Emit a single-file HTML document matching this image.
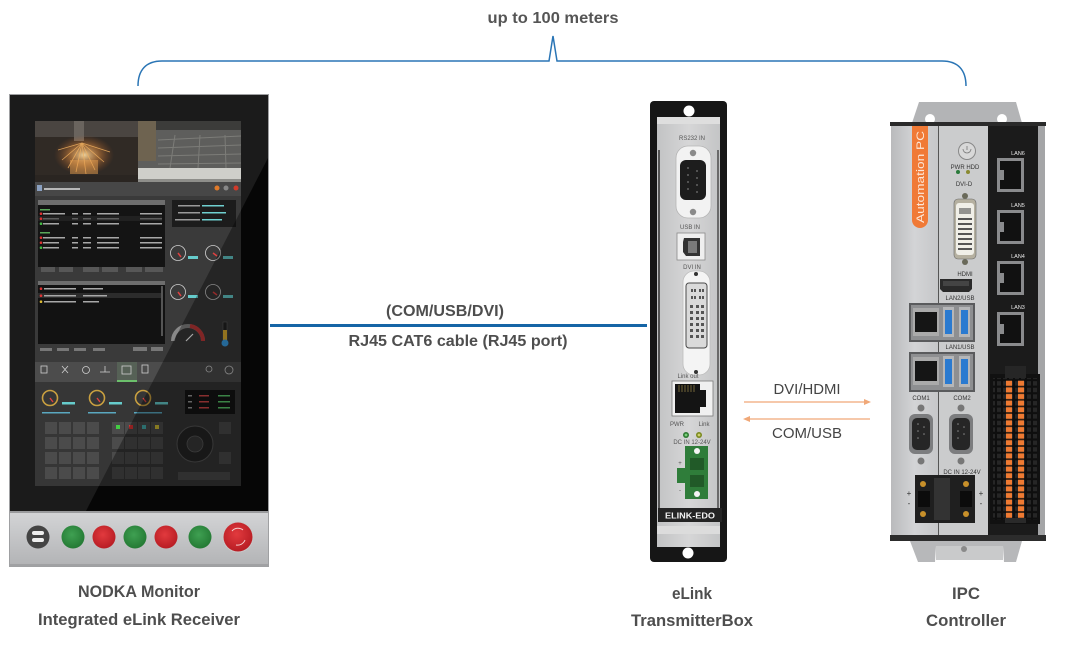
<!DOCTYPE html>
<html><head><meta charset="utf-8">
<style>
html,body{margin:0;padding:0;background:#fff;width:1067px;height:649px;overflow:hidden}
svg{display:block}
text{font-family:"Liberation Sans",Arial,sans-serif}
.lb{font-weight:bold;fill:#4e4e4e;font-size:17px}
.sm{fill:#555;font-size:6px}
.wh{fill:#e8e8e8;font-size:5.5px}
</style></head><body>
<svg width="1067" height="649" viewBox="0 0 1067 649" xmlns="http://www.w3.org/2000/svg">
<defs>
 <linearGradient id="panelG" x1="0" y1="0" x2="0" y2="1"><stop offset="0" stop-color="#d4d5d7"/><stop offset="1" stop-color="#b2b3b5"/></linearGradient>
 <linearGradient id="silverL" x1="0" y1="0" x2="1" y2="0"><stop offset="0" stop-color="#b9babc"/><stop offset="0.5" stop-color="#d3d4d6"/><stop offset="1" stop-color="#c6c7c9"/></linearGradient>
 <linearGradient id="silverE" x1="0" y1="0" x2="1" y2="0"><stop offset="0" stop-color="#c2c3c4"/><stop offset="0.5" stop-color="#d6d6d7"/><stop offset="1" stop-color="#c4c5c6"/></linearGradient>
 <radialGradient id="gr" cx=".45" cy=".4" r=".6"><stop offset="0" stop-color="#3fa052"/><stop offset="1" stop-color="#247a34"/></radialGradient>
 <radialGradient id="rd" cx=".45" cy=".4" r=".6"><stop offset="0" stop-color="#e23a3e"/><stop offset="1" stop-color="#b81d24"/></radialGradient>
 <radialGradient id="spark" cx=".5" cy=".5" r=".5"><stop offset="0" stop-color="#ffe2a8" stop-opacity=".9"/><stop offset=".5" stop-color="#e89040" stop-opacity=".5"/><stop offset="1" stop-color="#a05020" stop-opacity="0"/></radialGradient>
 <clipPath id="scr"><rect x="35" y="121" width="206" height="365"/></clipPath>
 <pattern id="orng" x="0" y="380" width="6" height="6.6" patternUnits="userSpaceOnUse"><rect width="6" height="6.6" fill="#2a1a10"/><rect x="0" y="0.8" width="6" height="5" fill="#ef7a32"/></pattern>
 <pattern id="blk" x="0" y="367" width="6" height="6.6" patternUnits="userSpaceOnUse"><rect width="6" height="6.6" fill="#0e0e0e"/><rect x="1" y="1" width="4" height="4.4" fill="#262626"/></pattern>
</defs>

<!-- top brace -->
<path d="M138,86 C138,70 146,61 162,61 L549,61 L553,36 L557,61 L942,61 C958,61 966,70 966,86" stroke="#2a75b5" stroke-width="1.5" fill="none"/>
<text x="553" y="23" class="lb" text-anchor="middle" textLength="131" lengthAdjust="spacingAndGlyphs" style="font-size:16px;fill:#555">up to 100 meters</text>

<!-- ================= MONITOR ================= -->
<rect x="9" y="94" width="260" height="473" fill="#9fa0a2"/>
<rect x="10" y="95" width="258" height="416" fill="#1b1b1b"/>
<polygon points="268,158 268,511 86,511" fill="#060606"/>
<rect x="10" y="511" width="258" height="55" fill="url(#panelG)"/>
<rect x="10" y="511" width="258" height="2" fill="#9a9b9d"/>
<rect x="10" y="564" width="258" height="2" fill="#a0a1a3"/>

<g clip-path="url(#scr)">
 <rect x="35" y="121" width="206" height="365" fill="#3a3a3a"/>
 <!-- cameras -->
 <rect x="35" y="121" width="103" height="61" fill="#302a25"/>
 <rect x="35" y="121" width="103" height="16" fill="#4a4541"/>
 <rect x="74" y="121" width="10" height="20" fill="#6a645e"/>
 <ellipse cx="84" cy="155" rx="30" ry="20" fill="url(#spark)"/>
 <g stroke="#f0b060" stroke-width=".8" opacity=".85">
  <line x1="82" y1="143" x2="62" y2="160"/><line x1="82" y1="143" x2="68" y2="168"/><line x1="82" y1="143" x2="76" y2="172"/><line x1="82" y1="143" x2="86" y2="174"/><line x1="82" y1="143" x2="95" y2="170"/><line x1="82" y1="143" x2="104" y2="162"/><line x1="82" y1="143" x2="110" y2="152"/><line x1="82" y1="143" x2="58" y2="150"/>
 </g>
 <rect x="70" y="160" width="28" height="14" fill="#e8a050" opacity=".5"/>
 <rect x="35" y="175" width="103" height="7" fill="#2a2521"/>
 <rect x="138" y="121" width="103" height="61" fill="#5e5e5c"/>
 <rect x="138" y="121" width="103" height="9" fill="#3c3c3a"/>
 <rect x="138" y="121" width="18" height="40" fill="#6e6350"/>
 <g stroke="#7c7c78" stroke-width="1">
  <line x1="158" y1="140" x2="241" y2="136"/><line x1="158" y1="148" x2="241" y2="145"/><line x1="158" y1="156" x2="241" y2="154"/><line x1="158" y1="164" x2="241" y2="163"/>
  <line x1="175" y1="135" x2="170" y2="168"/><line x1="200" y1="135" x2="198" y2="168"/><line x1="225" y1="135" x2="226" y2="168"/>
 </g>
 <rect x="138" y="168" width="103" height="11" fill="#cfcfca"/>
 <rect x="138" y="179" width="103" height="3" fill="#8e8e8a"/>
 <!-- title bar -->
 <rect x="35" y="182" width="206" height="14" fill="#474747"/>
 <rect x="37" y="185" width="5" height="6" fill="#8aa0c0"/>
 <rect x="44" y="188" width="36" height="2" fill="#b8b8b8"/>
 <circle cx="217" cy="188" r="2.5" fill="#e07a2a"/><circle cx="226" cy="188" r="2.5" fill="#888"/><circle cx="236" cy="188" r="2.5" fill="#d23a2a"/>
 <!-- table 1 -->
 <rect x="38" y="200" width="127" height="5" fill="#6e6e6e"/>
 <rect x="38" y="205" width="127" height="62" fill="#141414"/>
 <g fill="#a8a8a8">
  <rect x="40" y="209" width="10" height="1.5" fill="#5aa85a"/>
  <rect x="43" y="213" width="22" height="1.5"/><rect x="72" y="213" width="6" height="1.5"/><rect x="83" y="213" width="8" height="1.5"/><rect x="97" y="213" width="22" height="1.5"/><rect x="140" y="213" width="22" height="1.5"/>
  <rect x="43" y="218" width="16" height="1.5"/><rect x="72" y="218" width="6" height="1.5"/><rect x="83" y="218" width="8" height="1.5"/><rect x="97" y="218" width="22" height="1.5"/><rect x="140" y="218" width="22" height="1.5"/>
  <rect x="43" y="223" width="16" height="1.5"/><rect x="72" y="223" width="6" height="1.5"/><rect x="83" y="223" width="8" height="1.5"/><rect x="97" y="223" width="22" height="1.5"/><rect x="140" y="223" width="22" height="1.5"/>
  <rect x="40" y="232" width="10" height="1.5" fill="#5aa85a"/>
  <rect x="43" y="237" width="22" height="1.5"/><rect x="72" y="237" width="6" height="1.5"/><rect x="83" y="237" width="8" height="1.5"/><rect x="97" y="237" width="22" height="1.5"/><rect x="140" y="237" width="22" height="1.5"/>
  <rect x="43" y="242" width="16" height="1.5"/><rect x="72" y="242" width="6" height="1.5"/><rect x="83" y="242" width="8" height="1.5"/><rect x="97" y="242" width="22" height="1.5"/><rect x="140" y="242" width="22" height="1.5"/>
  <rect x="43" y="247" width="16" height="1.5"/><rect x="72" y="247" width="6" height="1.5"/><rect x="83" y="247" width="8" height="1.5"/><rect x="97" y="247" width="22" height="1.5"/><rect x="140" y="247" width="22" height="1.5"/>
 </g>
 <rect x="38" y="216" width="124" height="5" fill="#2a2a2a" opacity=".6"/>
 <circle cx="41" cy="213.7" r="1.3" fill="#d33"/><circle cx="41" cy="218.7" r="1.3" fill="#d33"/><circle cx="41" cy="223.7" r="1.3" fill="#4b4"/>
 <circle cx="41" cy="237.7" r="1.3" fill="#d33"/><circle cx="41" cy="242.7" r="1.3" fill="#d33"/><circle cx="41" cy="247.7" r="1.3" fill="#4b4"/>
 <g fill="#575757"><rect x="41" y="267" width="14" height="5"/><rect x="59" y="267" width="14" height="5"/><rect x="83" y="267" width="16" height="5"/><rect x="102" y="267" width="16" height="5"/><rect x="126" y="267" width="16" height="5"/><rect x="145" y="267" width="18" height="5"/></g>
 <!-- info box -->
 <rect x="172" y="200" width="64" height="27" fill="#1c1c1c"/>
 <g fill="#9a9a9a"><rect x="178" y="205" width="22" height="1.5"/><rect x="178" y="212" width="22" height="1.5"/><rect x="175" y="219" width="25" height="1.5"/></g>
 <g fill="#6fd0d0"><rect x="202" y="205" width="22" height="1.5"/><rect x="202" y="212" width="24" height="1.5"/><rect x="202" y="219" width="20" height="1.5"/></g>
 <!-- gauges -->
 <g fill="none" stroke="#cfcfcf" stroke-width="0.8">
  <circle cx="178" cy="253" r="7.5"/><circle cx="213" cy="253" r="7.5"/><circle cx="178" cy="292" r="7.5"/><circle cx="213" cy="292" r="7.5"/>
 </g>
 <g stroke="#e04040" stroke-width="1.5"><line x1="178" y1="253" x2="181" y2="257"/><line x1="213" y1="253" x2="217" y2="256"/><line x1="178" y1="292" x2="181" y2="296"/><line x1="213" y1="292" x2="217" y2="295"/></g>
 <g fill="#66cccc"><rect x="188" y="256" width="10" height="3"/><rect x="223" y="256" width="10" height="3"/><rect x="188" y="295" width="10" height="3"/><rect x="223" y="295" width="10" height="3"/></g>
 <!-- table 2 -->
 <rect x="38" y="281" width="127" height="4" fill="#6e6e6e"/>
 <rect x="38" y="285" width="127" height="59" fill="#121212"/>
 <rect x="38" y="293" width="124" height="5" fill="#2c2c2c"/>
 <g fill="#a8a8a8"><rect x="44" y="288" width="32" height="1.5"/><rect x="83" y="288" width="20" height="1.5"/><rect x="44" y="295" width="32" height="1.5"/><rect x="83" y="295" width="24" height="1.5"/><rect x="44" y="301" width="32" height="1.5"/><rect x="83" y="301" width="16" height="1.5"/></g>
 <circle cx="41" cy="288.7" r="1.3" fill="#d33"/><circle cx="41" cy="295.7" r="1.3" fill="#d33"/><circle cx="41" cy="301.7" r="1.3" fill="#db3"/>
 <rect x="161" y="286" width="2" height="50" fill="#555"/>
 <g fill="#777"><rect x="40" y="348" width="12" height="3"/><rect x="57" y="348" width="12" height="3"/><rect x="74" y="348" width="12" height="3"/><rect x="93" y="348" width="12" height="3"/><rect x="133" y="347" width="14" height="4"/><rect x="151" y="347" width="12" height="4"/></g>
 <!-- big gauge & thermo -->
 <path d="M173,341 A15,15 0 0 1 203,341" fill="none" stroke="#888" stroke-width="4"/>
 <path d="M190,326 A15,15 0 0 1 203,341" fill="none" stroke="#c43a3a" stroke-width="4"/>
 <line x1="186" y1="341" x2="193" y2="334" stroke="#fff" stroke-width="1.2"/>
 <rect x="223" y="322" width="4" height="18" fill="#222" stroke="#666" stroke-width=".5"/>
 <rect x="223" y="330" width="4" height="10" fill="#e0b030"/>
 <circle cx="225" cy="343" r="3.5" fill="#3aa0e8"/>
 <!-- toolbar -->
 <rect x="35" y="362" width="206" height="20" fill="#4c4c4c"/>
 <rect x="117" y="362" width="20" height="20" fill="#566156"/>
 <rect x="117" y="380" width="20" height="2" fill="#6cc06c"/>
 <g fill="none" stroke="#cfcfcf" stroke-width=".8">
  <rect x="41" y="366" width="6" height="7"/><path d="M62,366 l6,7 M68,366 l-6,7"/><circle cx="86" cy="370" r="3.5"/><path d="M100,372 h10 M105,366 v6"/><rect x="122" y="366" width="9" height="8"/><rect x="142" y="365" width="6" height="8"/><circle cx="209" cy="369" r="3"/><circle cx="229" cy="370" r="4"/>
 </g>
 <!-- lower area -->
 <rect x="35" y="382" width="206" height="104" fill="#363636"/>
 <g fill="none" stroke-width="1.6">
  <circle cx="50" cy="398" r="7.5" stroke="#c9a040"/><circle cx="97" cy="398" r="7.5" stroke="#c9a040"/><circle cx="143" cy="398" r="7.5" stroke="#c9a040"/>
 </g>
 <g stroke="#e04040" stroke-width="1.4"><line x1="50" y1="398" x2="53" y2="402"/><line x1="97" y1="398" x2="100" y2="402"/><line x1="143" y1="398" x2="146" y2="402"/></g>
 <g fill="#66cccc"><rect x="62" y="402" width="13" height="2.5"/><rect x="109" y="402" width="13" height="2.5"/><rect x="155" y="402" width="13" height="2.5"/></g>
 <g fill="#5aa8c0"><rect x="42" y="412" width="28" height="1.5"/><rect x="88" y="412" width="28" height="1.5"/><rect x="134" y="412" width="28" height="1.5"/></g>
 <rect x="185" y="390" width="50" height="24" fill="#141414"/>
 <g fill="#9a9a9a"><rect x="188" y="395" width="4" height="1.5"/><rect x="188" y="401" width="4" height="1.5"/><rect x="188" y="407" width="4" height="1.5"/></g>
 <g fill="#d04848"><rect x="199" y="395" width="10" height="1.5"/><rect x="199" y="401" width="10" height="1.5"/><rect x="199" y="407" width="10" height="1.5"/></g>
 <g fill="#5ac86a"><rect x="218" y="395" width="12" height="1.5"/><rect x="218" y="401" width="12" height="1.5"/><rect x="218" y="407" width="12" height="1.5"/></g>
 <g fill="#4b4b4b">
  <rect x="45" y="422" width="12" height="12"/><rect x="59" y="422" width="12" height="12"/><rect x="73" y="422" width="12" height="12"/><rect x="87" y="422" width="12" height="12"/>
  <rect x="45" y="437" width="12" height="12"/><rect x="59" y="437" width="12" height="12"/><rect x="73" y="437" width="12" height="12"/><rect x="87" y="437" width="12" height="12"/>
  <rect x="45" y="452" width="12" height="12"/><rect x="59" y="452" width="12" height="12"/><rect x="73" y="452" width="12" height="12"/><rect x="87" y="452" width="12" height="12"/>
  <rect x="45" y="467" width="12" height="12"/><rect x="59" y="467" width="12" height="12"/><rect x="73" y="467" width="12" height="12"/><rect x="87" y="467" width="12" height="12"/>
  <rect x="112" y="422" width="12" height="12"/><rect x="125" y="422" width="12" height="12"/><rect x="138" y="422" width="12" height="12"/><rect x="151" y="422" width="12" height="12"/>
  <rect x="112" y="437" width="12" height="12"/><rect x="125" y="437" width="12" height="12"/><rect x="138" y="437" width="12" height="12"/><rect x="151" y="437" width="12" height="12"/>
  <rect x="112" y="452" width="12" height="12"/><rect x="125" y="452" width="12" height="12"/><rect x="138" y="452" width="12" height="12"/><rect x="151" y="452" width="12" height="12"/>
  <rect x="112" y="467" width="12" height="12"/><rect x="125" y="467" width="12" height="12"/><rect x="138" y="467" width="12" height="12"/><rect x="151" y="467" width="12" height="12"/>
  <rect x="219" y="422" width="12" height="12"/><rect x="219" y="452" width="12" height="12"/>
  <rect x="178" y="472" width="52" height="8"/>
 </g>
 <rect x="116" y="425" width="4" height="4" fill="#4c4"/><rect x="129" y="425" width="4" height="4" fill="#d33"/><rect x="142" y="425" width="4" height="4" fill="#4aa"/><rect x="155" y="425" width="4" height="4" fill="#cb3"/>
 <circle cx="195" cy="444" r="18" fill="#262626" stroke="#555" stroke-width="1"/>
 <circle cx="195" cy="444" r="8" fill="#3a3a3a" stroke="#5a5a5a" stroke-width=".8"/>
 <!-- darker right of glare line -->
 <polygon points="268,158 268,511 86,511" fill="#000" opacity=".35"/>
</g>

<!-- button panel -->
<circle cx="38" cy="537" r="11.5" fill="#444"/>
<rect x="32" y="531" width="12" height="4" rx="2" fill="#eee"/><rect x="32" y="538" width="12" height="4" rx="2" fill="#eee"/>
<circle cx="73" cy="537" r="11.5" fill="url(#gr)"/>
<circle cx="104" cy="537" r="11.5" fill="url(#rd)"/>
<circle cx="135" cy="537" r="11.5" fill="url(#gr)"/>
<circle cx="166" cy="537" r="11.5" fill="url(#rd)"/>
<circle cx="200" cy="537" r="11.5" fill="url(#gr)"/>
<circle cx="238" cy="537" r="15.5" fill="#c9c9c9"/>
<circle cx="238" cy="537" r="14.5" fill="url(#rd)"/>
<path d="M232,531 A8,8 0 0 1 243,530 M245,540 A8,8 0 0 1 236,545" fill="none" stroke="#f4d0d0" stroke-width="1"/>

<!-- blue cable -->
<rect x="270" y="324" width="377" height="3" fill="#1565a6"/>
<text x="445" y="316" class="lb" text-anchor="middle" textLength="118" lengthAdjust="spacingAndGlyphs" style="font-size:16px">(COM/USB/DVI)</text>
<text x="458" y="346" class="lb" text-anchor="middle" textLength="219" lengthAdjust="spacingAndGlyphs" style="font-size:16px">RJ45 CAT6 cable (RJ45 port)</text>

<!-- ================= eLink BOX ================= -->
<rect x="650" y="101" width="77" height="461" rx="4" fill="#161616"/>
<rect x="657" y="117" width="63" height="430" fill="url(#silverE)"/>
<rect x="657" y="117" width="63" height="7" fill="#dedede"/>
<rect x="658" y="150" width="2" height="370" fill="#555"/>
<rect x="717" y="150" width="2" height="370" fill="#6a6a6a"/>
<circle cx="689" cy="111" r="5.5" fill="#fff"/>
<circle cx="688" cy="553" r="5.5" fill="#fff"/>
<rect x="657" y="526" width="63" height="8" fill="#dcdcdc"/>
<text x="692" y="140" class="sm" text-anchor="middle">RS232 IN</text>
<rect x="676" y="146" width="35" height="72" rx="12" fill="#f2f2f2" stroke="#b5b5b5" stroke-width=".8"/>
<circle cx="693" cy="153" r="3.2" fill="#8a8a8a"/><circle cx="693" cy="212" r="3.2" fill="#8a8a8a"/>
<rect x="680" y="160" width="26" height="40" rx="6" fill="#1d1d1d"/>
<g fill="#777"><circle cx="688" cy="168" r=".9"/><circle cx="688" cy="175" r=".9"/><circle cx="688" cy="182" r=".9"/><circle cx="688" cy="189" r=".9"/><circle cx="697" cy="171" r=".9"/><circle cx="697" cy="178" r=".9"/><circle cx="697" cy="185" r=".9"/><circle cx="697" cy="192" r=".9"/></g>
<text x="690" y="229" class="sm" text-anchor="middle">USB IN</text>
<rect x="677" y="233" width="28" height="27" fill="#efefef" stroke="#8a8a8a" stroke-width=".8"/>
<path d="M684,238 h16 v18 h-14 l-3,-4 v-10 z" fill="#333"/>
<rect x="688" y="241" width="9" height="12" fill="#7a7a7a"/>
<text x="692" y="269" class="sm" text-anchor="middle">DVI IN</text>
<rect x="683" y="271" width="27" height="104" rx="11" fill="#f4f4f4" stroke="#bdbdbd" stroke-width=".8"/>
<circle cx="696" cy="274" r="2" fill="#333"/><circle cx="696" cy="372" r="2" fill="#333"/>
<rect x="686" y="283" width="21" height="65" rx="3" fill="#dadada" stroke="#4a4a4a" stroke-width="1"/>
<g fill="#555">
 <rect x="691" y="289" width="2" height="3"/><rect x="694" y="289" width="2" height="3"/><rect x="699" y="289" width="2" height="3"/><rect x="702" y="289" width="2" height="3"/>
 <rect x="691" y="296" width="2" height="3"/><rect x="694" y="296" width="2" height="3"/><rect x="699" y="296" width="2" height="3"/><rect x="702" y="296" width="2" height="3"/>
 <rect x="690" y="305" width="3" height="3"/><rect x="696" y="305" width="3" height="3"/><rect x="701" y="305" width="3" height="3"/>
 <rect x="690" y="311" width="3" height="3"/><rect x="696" y="311" width="3" height="3"/><rect x="701" y="311" width="3" height="3"/>
 <rect x="690" y="317" width="3" height="3"/><rect x="696" y="317" width="3" height="3"/><rect x="701" y="317" width="3" height="3"/>
 <rect x="690" y="323" width="3" height="3"/><rect x="696" y="323" width="3" height="3"/><rect x="701" y="323" width="3" height="3"/>
 <rect x="690" y="329" width="3" height="3"/><rect x="696" y="329" width="3" height="3"/><rect x="701" y="329" width="3" height="3"/>
 <rect x="690" y="335" width="3" height="3"/><rect x="696" y="335" width="3" height="3"/><rect x="701" y="335" width="3" height="3"/>
</g>
<text x="688" y="378" class="sm" text-anchor="middle">Link out</text>
<rect x="672" y="381" width="41" height="35" fill="#f0f0f0" stroke="#7a7a7a" stroke-width=".8"/>
<path d="M675,384 h25 v6 h6 v17 h-6 v6 h-25 z" fill="#141414"/>
<g stroke="#8a7a40" stroke-width=".8"><line x1="679" y1="385" x2="679" y2="392"/><line x1="682" y1="385" x2="682" y2="392"/><line x1="685" y1="385" x2="685" y2="392"/><line x1="688" y1="385" x2="688" y2="392"/><line x1="691" y1="385" x2="691" y2="392"/><line x1="694" y1="385" x2="694" y2="392"/></g>
<text x="677" y="426" class="sm" text-anchor="middle">PWR</text>
<text x="704" y="426" class="sm" text-anchor="middle">Link</text>
<circle cx="686" cy="435" r="3" fill="#2e7a32"/><circle cx="686" cy="435" r="1.4" fill="#7ad07a"/>
<circle cx="699" cy="435" r="3" fill="#7a8a20"/><circle cx="699" cy="435" r="1.4" fill="#d0d070"/>
<text x="692" y="444" class="sm" text-anchor="middle">DC IN 12-24V</text>
<rect x="685" y="446" width="23" height="53" fill="#2f7d3a"/>
<rect x="677" y="468" width="9" height="15" fill="#2f7d3a"/>
<circle cx="697" cy="451" r="3" fill="#f4f4f4"/><circle cx="697" cy="494" r="3" fill="#f4f4f4"/>
<rect x="690" y="458" width="14" height="12" fill="#215a28"/><rect x="690" y="475" width="14" height="12" fill="#215a28"/>
<text x="680" y="465" class="sm" text-anchor="middle">+</text>
<text x="680" y="492" class="sm" text-anchor="middle">-</text>
<rect x="658" y="508" width="64" height="14" fill="#242424"/>
<text x="690" y="518.5" text-anchor="middle" style="font-size:8.5px;font-weight:bold;fill:#f2f2f2" textLength="50" lengthAdjust="spacingAndGlyphs">ELINK-EDO</text>

<!-- orange arrows -->
<text x="807" y="394" text-anchor="middle" textLength="67" lengthAdjust="spacingAndGlyphs" style="font-size:15px;fill:#444">DVI/HDMI</text>
<line x1="744" y1="402" x2="866" y2="402" stroke="#f0a878" stroke-width="1.3"/>
<polygon points="871,402 864,399 864,405" fill="#f0a878"/>
<line x1="748" y1="419" x2="870" y2="419" stroke="#f0a878" stroke-width="1.3"/>
<polygon points="743,419 750,416 750,422" fill="#f0a878"/>
<text x="807" y="438" text-anchor="middle" textLength="70" lengthAdjust="spacingAndGlyphs" style="font-size:15px;fill:#444">COM/USB</text>

<!-- ================= IPC ================= -->
<polygon points="912,123 919,102 1016,102 1022,123" fill="#b3b4b6"/>
<circle cx="930" cy="119" r="5" fill="#fff"/><circle cx="1002" cy="119" r="5" fill="#fff"/>
<polygon points="910,541 918,562 935,562 936,546 1003,546 1004,562 1016,562 1022,541" fill="#b7b8ba"/>
<rect x="936" y="546" width="67" height="14" fill="#c9cacb"/>
<circle cx="964" cy="549" r="3" fill="#8a8a8a"/>
<rect x="890" y="122" width="156" height="4" fill="#2a2a2a"/>
<rect x="891" y="126" width="47" height="410" fill="url(#silverL)"/>
<rect x="938" y="126" width="1" height="410" fill="#555"/>
<rect x="939" y="126" width="49" height="410" fill="#cbcccd"/>
<rect x="988" y="126" width="50" height="410" fill="#1b1b1b"/>
<rect x="1038" y="126" width="7" height="410" fill="#a4a5a7"/>
<rect x="890" y="535" width="156" height="6" fill="#2c2c2c"/>
<!-- orange label -->
<path d="M912,126 h16 v94 a8,8 0 0 1 -16,0 z" fill="#f07a36"/>
<text transform="translate(924,223) rotate(-90)" style="font-size:11px;fill:#fde8d8" textLength="92" lengthAdjust="spacingAndGlyphs">Automation PC</text>
<!-- middle column -->
<circle cx="967" cy="151" r="8.5" fill="#d8d8d8" stroke="#888" stroke-width="1"/>
<path d="M963,149 A4,4 0 1 0 971,149 M967,146 v4" fill="none" stroke="#777" stroke-width=".8"/>
<text x="965" y="169" class="sm" text-anchor="middle" style="fill:#333">PWR HDD</text>
<circle cx="958" cy="172" r="2" fill="#2a7a3a"/><circle cx="968" cy="172" r="2" fill="#8a8a30"/>
<text x="964" y="186" class="sm" text-anchor="middle" style="fill:#333">DVI-D</text>
<circle cx="965" cy="196" r="3" fill="#6a6a5a"/><circle cx="965" cy="262" r="3" fill="#6a6a5a"/>
<rect x="954" y="199" width="22" height="60" rx="4" fill="#b5b0a0" stroke="#666" stroke-width=".6"/>
<rect x="956" y="203" width="18" height="52" rx="3" fill="#f0efe8"/>
<g fill="#555">
 <rect x="959" y="208" width="12" height="6" opacity=".6"/>
 <rect x="958" y="218" width="14" height="2"/><rect x="958" y="223" width="14" height="2"/><rect x="958" y="228" width="14" height="2"/><rect x="958" y="233" width="14" height="2"/><rect x="958" y="238" width="14" height="2"/><rect x="958" y="243" width="14" height="2"/><rect x="958" y="248" width="14" height="2"/>
</g>
<text x="965" y="276" class="sm" text-anchor="middle" style="fill:#333">HDMI</text>
<path d="M940,279 h32 v10 l-3,3 h-26 l-3,-3 z" fill="#2a2a2a"/>
<rect x="943" y="281" width="26" height="5" fill="#444"/>
<text x="960" y="300" class="sm" text-anchor="middle" style="fill:#333">LAN2/USB</text>
<rect x="909" y="303" width="66" height="39" fill="#5a5b5d"/>
<rect x="911" y="305" width="62" height="35" fill="#8e8f91"/>
<rect x="913" y="308" width="26" height="28" fill="#aaa"/><rect x="915" y="312" width="22" height="20" fill="#151515"/>
<rect x="943" y="307" width="11" height="30" fill="#b5b6b8"/><rect x="945" y="310" width="7" height="24" fill="#2a7ad0"/>
<rect x="959" y="307" width="11" height="30" fill="#b5b6b8"/><rect x="961" y="310" width="7" height="24" fill="#2a7ad0"/>
<text x="960" y="349" class="sm" text-anchor="middle" style="fill:#333">LAN1/USB</text>
<rect x="909" y="352" width="66" height="40" fill="#5a5b5d"/>
<rect x="911" y="354" width="62" height="36" fill="#8e8f91"/>
<rect x="913" y="357" width="26" height="28" fill="#aaa"/><rect x="915" y="361" width="22" height="20" fill="#151515"/>
<rect x="943" y="356" width="11" height="31" fill="#b5b6b8"/><rect x="945" y="359" width="7" height="25" fill="#2a7ad0"/>
<rect x="959" y="356" width="11" height="31" fill="#b5b6b8"/><rect x="961" y="359" width="7" height="25" fill="#2a7ad0"/>
<text x="921" y="400" class="sm" text-anchor="middle" style="fill:#333">COM1</text>
<text x="962" y="400" class="sm" text-anchor="middle" style="fill:#333">COM2</text>
<circle cx="921" cy="408" r="3.5" fill="#777"/><circle cx="921" cy="461" r="3.5" fill="#777"/>
<circle cx="961" cy="408" r="3.5" fill="#777"/><circle cx="961" cy="461" r="3.5" fill="#777"/>
<rect x="909" y="414" width="24" height="40" rx="6" fill="#7c7d7f"/><rect x="912" y="418" width="18" height="32" rx="5" fill="#262626"/>
<rect x="949" y="414" width="24" height="40" rx="6" fill="#7c7d7f"/><rect x="952" y="418" width="18" height="32" rx="5" fill="#262626"/>
<g fill="#888"><circle cx="918" cy="424" r=".8"/><circle cx="918" cy="431" r=".8"/><circle cx="918" cy="438" r=".8"/><circle cx="924" cy="427" r=".8"/><circle cx="924" cy="434" r=".8"/><circle cx="958" cy="424" r=".8"/><circle cx="958" cy="431" r=".8"/><circle cx="958" cy="438" r=".8"/><circle cx="964" cy="427" r=".8"/><circle cx="964" cy="434" r=".8"/></g>
<text x="962" y="474" class="sm" text-anchor="middle" style="fill:#333">DC IN 12-24V</text>
<rect x="915" y="475" width="60" height="48" fill="#1f1f1f"/>
<rect x="934" y="478" width="16" height="42" fill="#333"/>
<circle cx="923" cy="484" r="3" fill="#c8902a"/><circle cx="923" cy="514" r="3" fill="#c8902a"/>
<circle cx="966" cy="484" r="3" fill="#c8902a"/><circle cx="966" cy="514" r="3" fill="#c8902a"/>
<rect x="918" y="491" width="12" height="16" fill="#0c0c0c"/><rect x="960" y="491" width="12" height="16" fill="#0c0c0c"/>
<text x="909" y="496" class="sm" text-anchor="middle" style="fill:#333;font-size:8px">+</text>
<text x="909" y="506" class="sm" text-anchor="middle" style="fill:#333;font-size:8px">-</text>
<text x="981" y="496" class="sm" text-anchor="middle" style="fill:#333;font-size:8px">+</text>
<text x="981" y="506" class="sm" text-anchor="middle" style="fill:#333;font-size:8px">-</text>
<!-- right black panel LAN ports -->
<text x="1018" y="155" class="wh" text-anchor="middle">LAN6</text>
<rect x="997" y="158" width="27" height="34" fill="#8a8b8d"/><rect x="1000" y="161" width="21" height="28" fill="#111"/><rect x="1000" y="170" width="4" height="10" fill="#8a8b8d"/>
<text x="1018" y="207" class="wh" text-anchor="middle">LAN5</text>
<rect x="997" y="210" width="27" height="34" fill="#8a8b8d"/><rect x="1000" y="213" width="21" height="28" fill="#111"/><rect x="1000" y="222" width="4" height="10" fill="#8a8b8d"/>
<text x="1018" y="258" class="wh" text-anchor="middle">LAN4</text>
<rect x="997" y="261" width="27" height="34" fill="#8a8b8d"/><rect x="1000" y="264" width="21" height="28" fill="#111"/><rect x="1000" y="273" width="4" height="10" fill="#8a8b8d"/>
<text x="1018" y="309" class="wh" text-anchor="middle">LAN3</text>
<rect x="997" y="312" width="27" height="34" fill="#8a8b8d"/><rect x="1000" y="315" width="21" height="28" fill="#111"/><rect x="1000" y="324" width="4" height="10" fill="#8a8b8d"/>
<!-- terminal strip -->
<rect x="990" y="374" width="50" height="150" fill="#111"/>
<rect x="1005" y="366" width="21" height="12" fill="#262626"/>
<rect x="993" y="378" width="44" height="142" fill="url(#blk)"/>
<rect x="1006" y="380" width="6" height="138" fill="url(#orng)"/>
<rect x="1018" y="380" width="6" height="138" fill="url(#orng)"/>
<rect x="1005" y="518" width="21" height="5" fill="#2a2a2a"/>

<!-- bottom labels -->
<text x="139" y="597" class="lb" text-anchor="middle" textLength="122" lengthAdjust="spacingAndGlyphs">NODKA Monitor</text>
<text x="139" y="625" class="lb" text-anchor="middle" textLength="202" lengthAdjust="spacingAndGlyphs">Integrated eLink Receiver</text>
<text x="692" y="599" class="lb" text-anchor="middle" textLength="40" lengthAdjust="spacingAndGlyphs">eLink</text>
<text x="692" y="626" class="lb" text-anchor="middle" textLength="122" lengthAdjust="spacingAndGlyphs">TransmitterBox</text>
<text x="966" y="599" class="lb" text-anchor="middle" textLength="28" lengthAdjust="spacingAndGlyphs">IPC</text>
<text x="966" y="626" class="lb" text-anchor="middle" textLength="80" lengthAdjust="spacingAndGlyphs">Controller</text>
</svg>
</body></html>
